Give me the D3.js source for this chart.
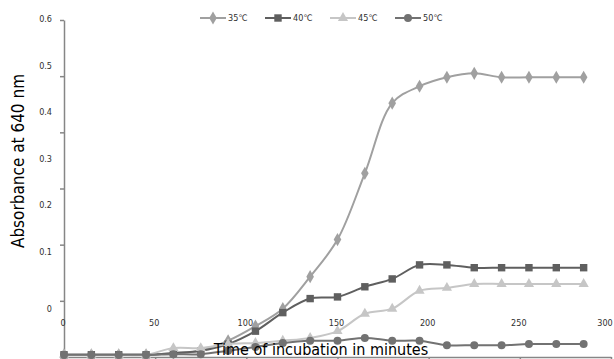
<!DOCTYPE html>
<html>
<head>
<meta charset="utf-8">
<script src="https://cdn.jsdelivr.net/npm/d3@7"></script>
<style>
  body { margin: 0; background: #fff; }
  text { font-family: "DejaVu Sans Condensed", "DejaVu Sans", sans-serif; }
</style>
</head>
<body>
<svg id="chart" width="614" height="359"></svg>
<script>
// absorbance vs incubation time, four temperatures
const minutes = [0, 15, 30, 45, 60, 75, 90, 105, 120, 135, 150, 165, 180, 195, 210, 225, 240, 255, 270, 285];
const temps = ["35℃", "40℃", "45℃", "50℃"];
const abs35 = [0.004, 0.004, 0.004, 0.004, 0.007, 0.011, 0.029, 0.055, 0.086, 0.143, 0.209, 0.327, 0.452, 0.482, 0.498, 0.505, 0.498, 0.498, 0.498, 0.498];
const abs40 = [0.004, 0.004, 0.004, 0.004, 0.007, 0.011, 0.023, 0.046, 0.079, 0.104, 0.107, 0.125, 0.139, 0.164, 0.164, 0.159, 0.159, 0.159, 0.159, 0.159];
const abs45 = [0.004, 0.004, 0.004, 0.004, 0.016, 0.016, 0.023, 0.025, 0.029, 0.034, 0.046, 0.077, 0.086, 0.118, 0.123, 0.130, 0.130, 0.130, 0.130, 0.130];
const abs50 = [0.004, 0.004, 0.004, 0.004, 0.005, 0.005, 0.011, 0.018, 0.025, 0.029, 0.029, 0.034, 0.029, 0.029, 0.021, 0.021, 0.021, 0.023, 0.023, 0.023];
const yTicks = [0, 0.1, 0.2, 0.3, 0.4, 0.5, 0.6];
const xTicks = [0, 50, 100, 150, 200, 250, 300];

const svg = d3.select("#chart");

const x = d3.scaleLinear().domain([0, 300]).range([64, 611]);
const y = d3.scaleLinear().domain([0, 0.6]).range([357, 20]);
// tick labels in the source sit off their ticks
const yLabel = d3.scaleLinear().domain([0, 0.1, 0.6]).range([312, 255, 22]);

const series = [
  {name: temps[0], values: abs35, colour: "#a0a0a0", symbol: d3.symbolDiamond, size: 50},
  {name: temps[1], values: abs40, colour: "#5f5f5f", symbol: d3.symbolSquare, size: 55},
  {name: temps[2], values: abs45, colour: "#c6c6c6", symbol: d3.symbolTriangle, size: 45},
  {name: temps[3], values: abs50, colour: "#727272", symbol: d3.symbolCircle, size: 50}
];

// axes
svg.append("g")
  .attr("transform", "translate(64,0)")
  .call(d3.axisLeft(y).tickValues(yTicks).tickFormat("").tickSize(4).tickSizeOuter(0));
svg.append("g")
  .attr("transform", "translate(0,357)")
  .call(d3.axisBottom(x).tickValues(xTicks).tickFormat("").tickSize(4).tickSizeOuter(0));
svg.selectAll(".domain, .tick line")
  .attr("stroke", "#868686")
  .attr("stroke-width", 1.5);

svg.append("g").selectAll("text")
  .data(yTicks)
  .join("text")
  .attr("x", 52)
  .attr("y", d => yLabel(d))
  .attr("text-anchor", "end")
  .attr("font-size", "9px")
  .attr("fill", "#303030")
  .text(d => d);

svg.append("g").selectAll("text")
  .data(xTicks)
  .join("text")
  .attr("x", d => Math.min(x(d) - 1, 605))
  .attr("y", 326)
  .attr("text-anchor", "middle")
  .attr("font-size", "9px")
  .attr("fill", "#303030")
  .text(d => d);

// lines and markers
const line = d3.line()
  .x((d, i) => x(minutes[i]))
  .y(d => y(d))
  .curve(d3.curveCatmullRom);

series.forEach(s => {
  svg.append("path")
    .attr("d", line(s.values))
    .attr("fill", "none")
    .attr("stroke", s.colour)
    .attr("stroke-width", 2);

  svg.append("g").selectAll("path")
    .data(s.values)
    .join("path")
    .attr("d", d3.symbol().type(s.symbol).size(s.size))
    .attr("transform", (d, i) => "translate(" + x(minutes[i]) + "," + y(d) + ")")
    .attr("fill", s.colour);
});

// legend
const legend = svg.append("g");
series.forEach((s, i) => {
  const lx = 200 + i * 65;
  legend.append("line")
    .attr("x1", lx).attr("x2", lx + 26)
    .attr("y1", 18).attr("y2", 18)
    .attr("stroke", s.colour)
    .attr("stroke-width", 2);
  legend.append("path")
    .attr("d", d3.symbol().type(s.symbol).size(s.size))
    .attr("transform", "translate(" + (lx + 13) + ",18)")
    .attr("fill", s.colour);
  legend.append("text")
    .attr("x", lx + 28)
    .attr("y", 21)
    .attr("font-size", "9px")
    .attr("fill", "#303030")
    .text(s.name);
});

// axis titles
svg.append("text")
  .attr("transform", "translate(24,161) rotate(-90)")
  .attr("text-anchor", "middle")
  .attr("font-size", "17px")
  .attr("fill", "#000")
  .text("Absorbance at 640 nm");

svg.append("text")
  .attr("x", 321)
  .attr("y", 355)
  .attr("text-anchor", "middle")
  .attr("font-size", "16px")
  .attr("fill", "#000")
  .text("Time of incubation in minutes");
</script>
</body>
</html>
